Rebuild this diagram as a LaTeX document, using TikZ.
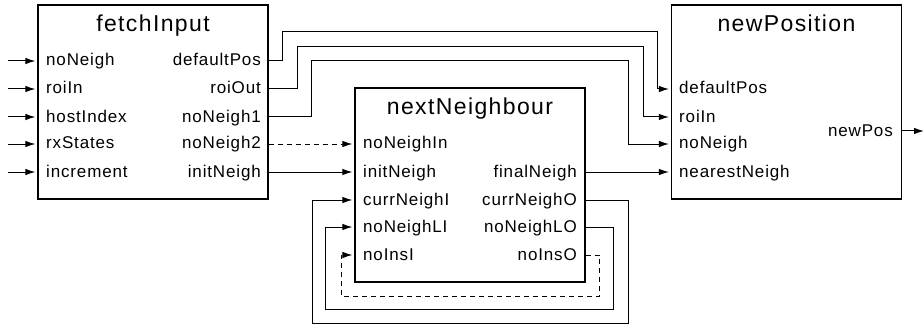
\documentclass[tikz,border=0pt]{standalone}
\usepackage{fontspec}
\setmainfont{Liberation Sans}
\newfontfamily\portfont[LetterSpace=5]{Liberation Sans}
\newfontfamily\titlefont[LetterSpace=6]{Liberation Sans}
\usetikzlibrary{arrows.meta}

\begin{document}
\begin{tikzpicture}[x=1pt,y=-1pt,
  block/.style={draw, line width=1.2pt, inner sep=0pt, minimum width=230pt, minimum height=194pt},
  blocktitle/.style={font=\titlefont\fontsize{23}{27}\selectfont, anchor=base, inner sep=0pt},
  inport/.style={font=\portfont\fontsize{17}{20}\selectfont, anchor=base west, inner sep=0pt},
  outport/.style={font=\portfont\fontsize{17}{20}\selectfont, anchor=base east, inner sep=0pt},
  wire/.style={line width=1pt},
  feed/.style={wire, -{Latex[length=10pt,width=6.5pt]}, shorten >=2pt},
  dashwire/.style={dash pattern=on 5pt off 4pt}
]
\useasboundingbox (0,0) rectangle (923,326);

% ---- blocks ----
\node[block] (fetch) at (153,102) {};
\node[block] (next)  at (470,185) {};
\node[block] (newp)  at (786.5,102) {};

\node[blocktitle] (fetchT) at (153,32)   {fetchInput};
\node[blocktitle] (nextT)  at (470,115)  {nextNeighbour};
\node[blocktitle] (newpT)  at (786.5,32) {newPosition};

% ---- fetchInput ports ----
\node[inport] (l-fi1) at (46,66)  {noNeigh};
\node[inport] (l-fi2) at (46,94)  {roiIn};
\node[inport] (l-fi3) at (46,122) {hostIndex};
\node[inport] (l-fi4) at (46,149) {rxStates};
\node[inport] (l-fi5) at (46,177) {increment};
\node[outport] (l-fo1) at (261,66)  {defaultPos};
\node[outport] (l-fo2) at (261,94)  {roiOut};
\node[outport] (l-fo3) at (261,122) {noNeigh1};
\node[outport] (l-fo4) at (261,149) {noNeigh2};
\node[outport] (l-fo5) at (261,177) {initNeigh};

\coordinate (fi1) at (fetch.west |- 0,61);
\coordinate (fi2) at (fetch.west |- 0,89);
\coordinate (fi3) at (fetch.west |- 0,117);
\coordinate (fi4) at (fetch.west |- 0,144);
\coordinate (fi5) at (fetch.west |- 0,172);
\coordinate (fo1) at (fetch.east |- 0,61);
\coordinate (fo2) at (fetch.east |- 0,89);
\coordinate (fo3) at (fetch.east |- 0,117);
\coordinate (fo4) at (fetch.east |- 0,144);
\coordinate (fo5) at (fetch.east |- 0,172);

\coordinate (src1) at (8,61);
\coordinate (src2) at (8,89);
\coordinate (src3) at (8,117);
\coordinate (src4) at (8,144);
\coordinate (src5) at (8,172);

% ---- nextNeighbour ports ----
\node[inport] (l-ni1) at (363,149) {noNeighIn};
\node[inport] (l-ni2) at (363,177) {initNeigh};
\node[inport] (l-ni3) at (363,205) {currNeighI};
\node[inport] (l-ni4) at (363,232) {noNeighLI};
\node[inport] (l-ni5) at (363,260) {noInsI};
\node[outport] (l-no2) at (577,177) {finalNeigh};
\node[outport] (l-no3) at (577,205) {currNeighO};
\node[outport] (l-no4) at (577,232) {noNeighLO};
\node[outport] (l-no5) at (577,260) {noInsO};

\coordinate (ni1) at (next.west |- 0,144);
\coordinate (ni2) at (next.west |- 0,172);
\coordinate (ni3) at (next.west |- 0,200);
\coordinate (ni4) at (next.west |- 0,227);
\coordinate (ni5) at (next.west |- 0,255);
\coordinate (no2) at (next.east |- 0,172);
\coordinate (no3) at (next.east |- 0,200);
\coordinate (no4) at (next.east |- 0,227);
\coordinate (no5) at (next.east |- 0,255);

% ---- newPosition ports ----
\node[inport] (l-pi1) at (679,94)  {defaultPos};
\node[inport] (l-pi2) at (679,122) {roiIn};
\node[inport] (l-pi3) at (679,149) {noNeigh};
\node[inport] (l-pi4) at (679,177) {nearestNeigh};
\node[outport] (l-po1) at (893,136) {newPos};

\coordinate (pi1) at (newp.west |- 0,89);
\coordinate (pi2) at (newp.west |- 0,117);
\coordinate (pi3) at (newp.west |- 0,144);
\coordinate (pi4) at (newp.west |- 0,172);
\coordinate (po1) at (newp.east |- 0,131);
\coordinate (sink) at (926,131);

% ---- external inputs ----
\draw[feed] (src1) -- (fi1);
\draw[feed] (src2) -- (fi2);
\draw[feed] (src3) -- (fi3);
\draw[feed] (src4) -- (fi4);
\draw[feed] (src5) -- (fi5);

% ---- fetchInput -> newPosition ----
\draw[feed] (fo1) -- ++(14,0) |- (657,32) |- (pi1);
\draw[feed] (fo2) -- ++(29,0) |- (643,47) |- (pi2);
\draw[feed] (fo3) -- ++(43,0) |- (628,61) |- (pi3);

% ---- fetchInput -> nextNeighbour ----
\draw[feed, dashwire] (fo4) -- (ni1);
\draw[feed] (fo5) -- (ni2);

% ---- nextNeighbour -> newPosition ----
\draw[feed] (no2) -- (pi4);

% ---- nextNeighbour feedback loops ----
\draw[feed] (no3) -- ++(43,0) |- (312,323) |- (ni3);
\draw[feed] (no4) -- ++(28,0) |- (325,309) |- (ni4);
\draw[feed, dashwire] (no5) -- ++(14,0) |- (341,296) |- (ni5);

% ---- output ----
\draw[feed] (po1) -- (sink);
\end{tikzpicture}
\end{document}
